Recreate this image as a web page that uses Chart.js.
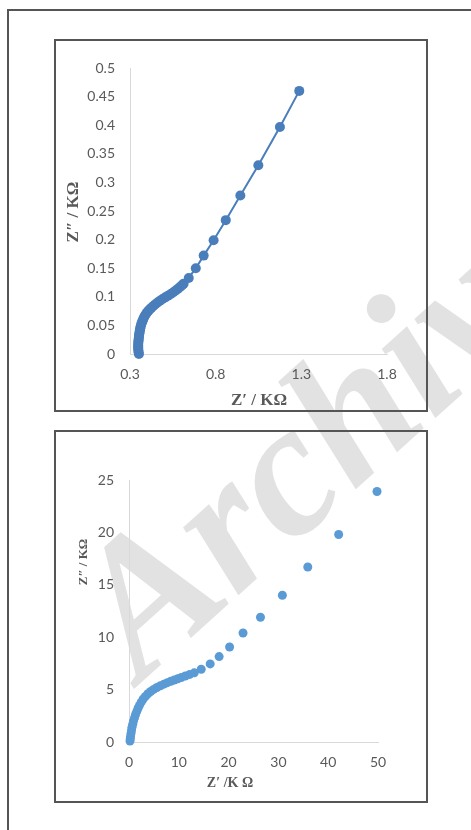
<!DOCTYPE html>
<html>
<head>
<meta charset="utf-8">
<script src="https://cdn.jsdelivr.net/npm/chart.js@4/dist/chart.umd.min.js"></script>
<style>
  html, body { margin: 0; padding: 0; background: #fff; overflow: hidden; }
  body { width: 471px; height: 830px; position: relative; }
  .frame { position: absolute; left: 7px; top: 9px; width: 600px; height: 900px; border: 2px solid #555; }
  .box { position: absolute; left: 54px; width: 370px; height: 369px; border: 2px solid #555; }
  .box canvas { position: absolute; left: 0; top: 0; }
  .wm { position: absolute; left: 148px; top: 521px; font: bold italic 190px "Liberation Serif", serif;
        line-height: 1; color: #e2e2e2; white-space: nowrap; transform-origin: 0 169px; transform: rotate(-42deg); }
  .ttl { position: absolute; font-family: "Liberation Serif", serif; font-weight: bold; color: #595959;
         white-space: nowrap; transform: translate(-50%, -50%); }
  .ttl.v { transform: translate(-50%, -50%) rotate(-90deg); }
</style>
</head>
<body>
<div class="frame"></div>
<div class="wm">Archive of SID</div>
<div class="box" style="top:39px"><canvas id="topChart" width="370" height="369"></canvas></div>
<div class="box" style="top:430px"><canvas id="bottomChart" width="370" height="369"></canvas></div>
<div class="ttl" style="left:259px; top:400px; font-size:17px">Z′ / KΩ</div>
<div class="ttl v" style="left:73px; top:212px; font-size:17px">Z″ / KΩ</div>
<div class="ttl" style="left:230px; top:783px; font-size:14px">Z′ /K Ω</div>
<div class="ttl v" style="left:83px; top:562px; font-size:13px">Z″ / KΩ</div>
<script>
// top plot: Z' (x) and Z'' (y), KΩ
const topZre = [0.352, 0.350, 0.349, 0.348, 0.348, 0.348, 0.348, 0.349, 0.350, 0.351,
                0.352, 0.353, 0.355, 0.356, 0.358, 0.360, 0.362, 0.365, 0.368, 0.372,
                0.376, 0.380, 0.385, 0.391, 0.398, 0.406, 0.415, 0.425, 0.436, 0.448,
                0.461, 0.475, 0.490, 0.506, 0.522, 0.538, 0.553, 0.567, 0.580, 0.592,
                0.603, 0.613, 0.643, 0.684, 0.730, 0.788, 0.859, 0.944, 1.049, 1.175, 1.288];
const topZim = [0.000, 0.003, 0.006, 0.009, 0.012, 0.015, 0.018, 0.021, 0.024, 0.027,
                0.030, 0.033, 0.036, 0.039, 0.042, 0.045, 0.048, 0.051, 0.054, 0.057,
                0.060, 0.063, 0.066, 0.069, 0.072, 0.075, 0.078, 0.081, 0.084, 0.087,
                0.090, 0.093, 0.096, 0.099, 0.102, 0.105, 0.108, 0.111, 0.114, 0.117,
                0.120, 0.123, 0.133, 0.150, 0.172, 0.199, 0.234, 0.277, 0.330, 0.397, 0.460];
const topXTicks = [0.3, 0.8, 1.3, 1.8];
const topYTicks = [0, 0.05, 0.1, 0.15, 0.2, 0.25, 0.3, 0.35, 0.4, 0.45, 0.5];

// bottom plot
const botZre = [0.2, 0.25, 0.3, 0.4, 0.5, 0.6, 0.75, 0.9, 1.1, 1.3,
                1.55, 1.8, 2.1, 2.45, 2.85, 3.3, 3.8, 4.35, 4.95, 5.6,
                6.3, 7.0, 7.7, 8.4, 9.1, 9.8, 10.5, 11.3, 12.2, 13.1,
                14.5, 16.3, 18.1, 20.2, 22.9, 26.4, 30.8, 35.9, 42.1, 49.8];
const botZim = [0.1, 0.3, 0.5, 0.8, 1.1, 1.4, 1.7, 2.0, 2.3, 2.6,
                2.9, 3.2, 3.5, 3.8, 4.1, 4.35, 4.6, 4.82, 5.02, 5.2,
                5.37, 5.52, 5.66, 5.8, 5.92, 6.04, 6.16, 6.3, 6.45, 6.6,
                6.94, 7.45, 8.15, 9.07, 10.4, 11.9, 14.0, 16.7, 19.8, 23.9];
const botXTicks = [0, 10, 20, 30, 40, 50];
const botYTicks = [0, 5, 10, 15, 20, 25];

function toPoints(xs, ys) {
    return xs.map((x, i) => ({ x: x, y: ys[i] }));
}

function axis(ticks, opts) {
    return {
        type: "linear",
        min: ticks[0],
        max: ticks[ticks.length - 1],
        grid: { display: false, drawTicks: false },
        border: { display: true, color: "#d9d9d9", width: 1 },
        afterBuildTicks: s => { s.ticks = ticks.map(v => ({ value: v })); },
        afterFit: s => {
            if (opts.width) s.width = opts.width;
            if (opts.height) s.height = opts.height;
        },
        ticks: {
            padding: opts.pad,
            color: "#595959",
            font: { family: "Lato", size: 14 },
            maxRotation: 0,
            autoSkip: false,
            callback: v => String(v)
        }
    };
}

function makeChart(id, data, color, radius, line, xTicks, yTicks, pad, yW, xH) {
    return new Chart(document.getElementById(id), {
        type: "scatter",
        data: {
            datasets: [{
                data: data,
                showLine: line,
                borderColor: color,
                borderWidth: 2,
                backgroundColor: color,
                pointRadius: radius,
                pointBorderWidth: 0,
                pointHoverRadius: radius,
                clip: false
            }]
        },
        options: {
            responsive: false,
            animation: false,
            layout: { padding: pad },
            plugins: { legend: { display: false }, tooltip: { enabled: false } },
            scales: {
                x: axis(xTicks, { pad: 12, height: xH }),
                y: axis(yTicks, { pad: 15, width: yW })
            }
        }
    });
}

makeChart("topChart", toPoints(topZre, topZim), "#4a7ebb", 5, true,
          topXTicks, topYTicks, { top: 27, right: 39, left: 0, bottom: 0 }, 74, 56);
makeChart("bottomChart", toPoints(botZre, botZim), "#5b9bd5", 4.5, false,
          botXTicks, botYTicks, { top: 48, right: 48, left: 0, bottom: 0 }, 73, 59);
</script>
</body>
</html>
